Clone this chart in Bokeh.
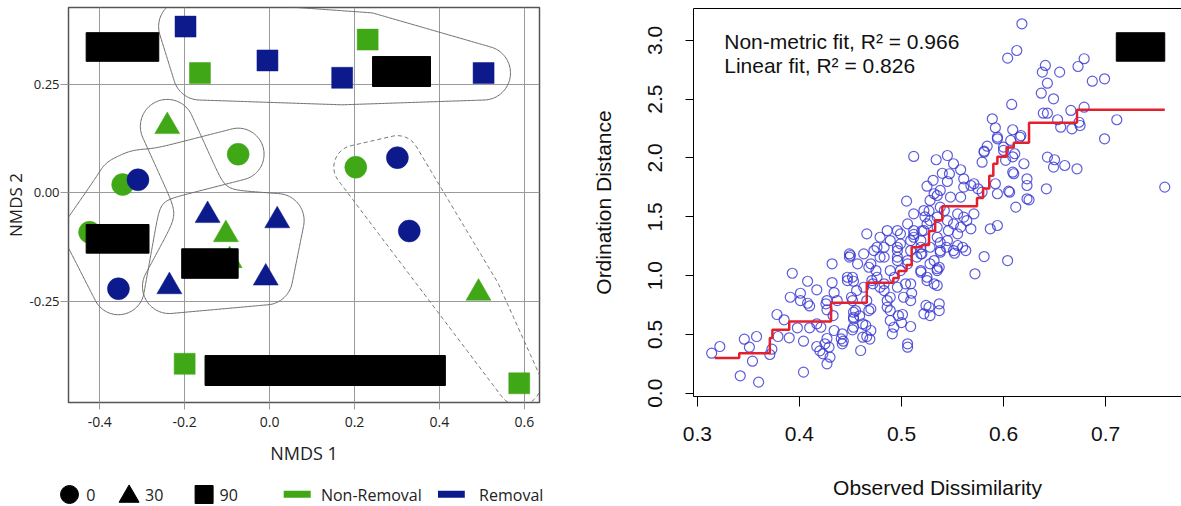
import numpy as np
import contourpy
from bokeh.plotting import figure
from bokeh.layouts import row, column
from bokeh.models import (Range1d, FixedTicker, Label, LinearAxis, ColumnDataSource)
from bokeh.transform import factor_cmap, factor_mark
from bokeh.core.properties import value
from bokeh.embed import file_html
from bokeh.resources import INLINE

# ------------------------------------------------------------------ data (left: NMDS)
nmds_x = [-0.198, -0.164, -0.005, 0.171, 0.231, 0.504, -0.200, 0.588,
          -0.074, -0.346, -0.310, -0.424, -0.356, 0.203, 0.301, 0.329,
          -0.241, -0.146, -0.103, 0.018, -0.094, -0.009, -0.236, 0.492]
nmds_y = [0.383, 0.276, 0.305, 0.265, 0.353, 0.276, -0.394, -0.439,
          0.089, 0.019, 0.030, -0.091, -0.221, 0.059, 0.081, -0.088,
          0.153, -0.052, -0.096, -0.064, -0.156, -0.196, -0.216, -0.231]
nmds_days = ["90"] * 8 + ["0"] * 8 + ["30"] * 8
nmds_treat = ["Removal", "Non-Removal", "Removal", "Removal", "Non-Removal", "Removal", "Non-Removal", "Non-Removal",
              "Non-Removal", "Non-Removal", "Removal", "Non-Removal", "Removal", "Non-Removal", "Removal", "Removal",
              "Non-Removal", "Removal", "Non-Removal", "Removal", "Non-Removal", "Removal", "Removal", "Non-Removal"]
# hull groups: lists of point indices (each part is a convex piece)
hull_groups = [
    {"parts": [[0, 1, 2, 3, 4, 5]], "dash": "solid", "r": 27},
    {"parts": [[9, 10, 11, 12], [10, 8]], "dash": "solid", "r": 26},
    {"parts": [[17, 18, 19, 20, 21, 22], [16, 17]], "dash": "solid", "r": 27},
    {"parts": [[13, 14, 15, 23, 7]], "dash": "4 3", "r": 22},
]
x_ticks = [-0.4, -0.2, 0.0, 0.2, 0.4, 0.6]
x_tick_labels = ["-0.4", "-0.2", "0.0", "0.2", "0.4", "0.6"]
y_ticks = [-0.25, 0.0, 0.25]
y_tick_labels = ["-0.25", "0.00", "0.25"]
days_levels = ["0", "30", "90"]
treat_levels = ["Non-Removal", "Removal"]
legend_shape_labels = ["0", "30", "90"]

# redaction boxes present in the reference picture
mask_left = [-0.432, 0.2425, -0.432, -0.207, -0.152]
mask_right = [-0.261, 0.379, -0.284, -0.074, 0.414]
mask_top = [0.369, 0.314, -0.073, -0.129, -0.375]
mask_bottom = [0.303, 0.245, -0.139, -0.197, -0.444]

# ------------------------------------------------------------------ data (right: Shepard)
shep_pts = [
    (0.314, 0.340), (0.322, 0.397), (0.342, 0.148), (0.346, 0.459), (0.351, 0.391), (0.358, 0.482),
    (0.354, 0.272), (0.360, 0.094), (0.371, 0.329), (0.373, 0.374), (0.378, 0.669), (0.379, 0.482),
    (0.385, 0.624), (0.390, 0.471), (0.391, 0.816), (0.393, 1.020), (0.398, 0.556), (0.401, 0.850),
    (0.404, 0.179), (0.404, 0.442), (0.408, 0.952), (0.410, 0.556), (0.401, 0.788), (0.408, 0.765),
    (0.417, 0.397), (0.417, 0.879), (0.421, 0.561), (0.423, 0.335), (0.427, 0.465), (0.427, 0.250),
    (0.429, 0.391), (0.430, 0.306), (0.426, 0.760), (0.427, 0.709), (0.432, 1.100), (0.432, 0.941),
    (0.434, 0.856), (0.437, 0.788), (0.434, 0.533), (0.442, 0.505), (0.443, 0.442), (0.449, 1.157),
    (0.451, 0.816), (0.452, 0.539), (0.453, 0.952), (0.453, 0.646), (0.455, 0.703), (0.457, 1.100),
    (0.460, 0.363), (0.459, 0.658), (0.462, 0.590), (0.466, 0.482), (0.470, 0.533), (0.466, 0.788),
    (0.470, 0.717), (0.472, 0.930), (0.475, 1.043), (0.479, 0.901), (0.483, 1.157), (0.486, 0.731),
    (0.489, 0.618), (0.493, 0.986), (0.496, 1.157), (0.501, 0.669), (0.506, 0.391), (0.509, 0.567),
    (0.510, 0.850), (0.504, 0.930), (0.489, 0.816),
    (0.433, 0.660), (0.441, 0.462), (0.452, 0.986), (0.456, 0.873), (0.469, 0.460), (0.497, 0.660),
    (0.500, 0.600), (0.524, 0.746), (0.528, 0.660), (0.537, 0.760), (0.535, 0.916), (0.535, 1.058),
    (0.538, 1.199), (0.538, 1.280), (0.535, 1.410), (0.486, 1.383), (0.512, 1.350), (0.520, 1.380),
    (0.523, 1.500), (0.527, 1.550),
    (0.410, 0.742), (0.417, 0.590), (0.427, 0.788), (0.420, 0.360), (0.425, 0.420), (0.442, 0.420),
    (0.450, 1.171), (0.447, 0.958), (0.452, 0.788), (0.453, 0.689), (0.453, 0.632), (0.453, 0.561),
    (0.462, 0.476), (0.465, 0.576), (0.468, 0.703), (0.471, 0.958), (0.468, 1.071), (0.476, 1.241),
    (0.479, 1.157), (0.483, 0.930), (0.486, 0.788), (0.489, 0.703), (0.4925, 0.561), (0.491, 0.505),
    (0.499, 1.355), (0.496, 1.213), (0.499, 1.043), (0.506, 1.128), (0.509, 0.930), (0.509, 0.788),
    (0.519, 1.029), (0.520, 1.185), (0.525, 0.958), (0.527, 0.731), (0.537, 1.071), (0.532, 1.128),
    (0.535, 1.326), (0.537, 0.703), (0.522, 0.675), (0.506, 0.420), (0.544, 1.241), (0.551, 1.213),
    (0.555, 1.355), (0.560, 1.241), (0.545, 1.468), (0.538, 1.582), (0.525, 1.440), (0.512, 1.326),
    (0.519, 1.241), (0.466, 1.355), (0.449, 1.185),
    (0.512, 2.013), (0.534, 1.985), (0.545, 2.021), (0.551, 1.951), (0.547, 1.866), (0.558, 1.900),
    (0.561, 1.823), (0.568, 1.766), (0.575, 1.738), (0.581, 2.058), (0.579, 1.964), (0.594, 2.177),
    (0.600, 2.064), (0.607, 2.149), (0.617, 2.191), (0.620, 1.951), (0.609, 1.879), (0.623, 1.823),
    (0.605, 1.718), (0.594, 1.696), (0.612, 1.582), (0.623, 1.653), (0.594, 1.426), (0.587, 1.398),
    (0.604, 1.128), (0.581, 1.162), (0.572, 1.015), (0.563, 1.213), (0.555, 1.256), (0.552, 1.190),
    (0.558, 1.412), (0.564, 1.468), (0.568, 1.398), (0.561, 1.497), (0.555, 1.525), (0.571, 1.525),
    (0.551, 1.440), (0.546, 1.383), (0.542, 1.553), (0.535, 1.497), (0.528, 1.468), (0.522, 1.553),
    (0.528, 1.639), (0.535, 1.681), (0.538, 1.724), (0.532, 1.696), (0.548, 1.667), (0.558, 1.667),
    (0.505, 1.633), (0.522, 1.383), (0.512, 1.383), (0.509, 1.298), (0.519, 1.298), (0.496, 1.383),
    (0.499, 1.270), (0.489, 1.298), (0.483, 1.241), (0.473, 1.213), (0.463, 1.185), (0.470, 1.100),
    (0.447, 0.986), (0.476, 0.986), (0.489, 1.043), (0.496, 1.128), (0.506, 1.100), (0.515, 1.157),
    (0.519, 1.043), (0.528, 1.100), (0.535, 1.043), (0.532, 0.930), (0.525, 0.986), (0.496, 0.901),
    (0.483, 0.873), (0.463, 0.901), (0.502, 0.816), (0.538, 1.213), (0.545, 1.298), (0.512, 1.525),
    (0.506, 1.440), (0.528, 1.241), (0.479, 1.326), (0.496, 1.241), (0.509, 1.213), (0.519, 1.185),
    (0.618, 3.141), (0.613, 2.914), (0.604, 2.849), (0.641, 2.787), (0.638, 2.730), (0.655, 2.730),
    (0.673, 2.778), (0.679, 2.844), (0.643, 2.636), (0.687, 2.653), (0.699, 2.673), (0.637, 2.551),
    (0.649, 2.503), (0.608, 2.455), (0.639, 2.381), (0.643, 2.381), (0.653, 2.325), (0.656, 2.262),
    (0.666, 2.404), (0.679, 2.432), (0.674, 2.304), (0.667, 2.248), (0.675, 2.276), (0.711, 2.325),
    (0.699, 2.163), (0.589, 2.333), (0.592, 2.257), (0.609, 2.240), (0.594, 2.163), (0.616, 2.177),
    (0.581, 2.049), (0.600, 2.092), (0.611, 2.036), (0.610, 1.866), (0.623, 1.766), (0.606, 1.709),
    (0.625, 1.644), (0.643, 2.007), (0.650, 1.985), (0.649, 1.922), (0.660, 1.936), (0.672, 1.908),
    (0.642, 1.738), (0.758, 1.752), (0.592, 1.781), (0.571, 1.781), (0.561, 1.752), (0.579, 1.709),
    (0.584, 2.100), (0.602, 1.980), (0.609, 2.010), (0.531, 1.810), (0.540, 1.870), (0.525, 1.760),
    (0.545, 1.800),
]
shep_x = [p[0] for p in shep_pts]
shep_y = [p[1] for p in shep_pts]
fit_x = [0.317, 0.341, 0.371, 0.3735, 0.39, 0.431, 0.466, 0.492, 0.497, 0.505, 0.510, 0.520, 0.527,
         0.533, 0.540, 0.574, 0.580, 0.586, 0.590, 0.594, 0.603, 0.610, 0.625, 0.672, 0.758]
fit_y = [0.30, 0.34, 0.47, 0.54, 0.61, 0.77, 0.94, 0.98, 1.04, 1.09, 1.24, 1.26, 1.38,
         1.47, 1.59, 1.66, 1.74, 1.85, 1.95, 2.01, 2.09, 2.13, 2.30, 2.41, 2.41]
shep_x_ticks = [0.3, 0.4, 0.5, 0.6, 0.7]
shep_y_ticks = [0.0, 0.5, 1.0, 1.5, 2.0, 2.5, 3.0]
shep_y_labels = ["0.0", "0.5", "1.0", "1.5", "2.0", "2.5", "3.0"]
fit_texts = ["Non-metric fit, R\u00b2 = 0.966", "Linear fit, R\u00b2 = 0.826"]
mask2 = dict(left=[0.7105], right=[0.758], top=[3.065], bottom=[2.823])

# ------------------------------------------------------------------ style
GREEN = "#40a816"
BLUE = "#0c1a8c"
LFONT = "Open Sans"
RFONT = "Liberation Sans"
SX, SY = 426.3, 434.0   # px per data unit in the left panel (for hull shapes)

# ------------------------------------------------------------------ hull outlines
def convex_hull(pts):
    pts = sorted(set(pts))
    if len(pts) <= 2:
        return pts
    def cross(o, a, b):
        return (a[0] - o[0]) * (b[1] - o[1]) - (a[1] - o[1]) * (b[0] - o[0])
    lower = []
    for p in pts:
        while len(lower) >= 2 and cross(lower[-2], lower[-1], p) <= 0:
            lower.pop()
        lower.append(p)
    upper = []
    for p in reversed(pts):
        while len(upper) >= 2 and cross(upper[-2], upper[-1], p) <= 0:
            upper.pop()
        upper.append(p)
    return lower[:-1] + upper[:-1]

def seg_dist(X, Y, a, b):
    dx, dy = b[0] - a[0], b[1] - a[1]
    L2 = dx * dx + dy * dy
    t = np.clip(((X - a[0]) * dx + (Y - a[1]) * dy) / L2, 0, 1) if L2 > 0 else 0
    return np.hypot(X - (a[0] + t * dx), Y - (a[1] + t * dy))

def part_dist(hull, X, Y):
    n = len(hull)
    if n == 1:
        return np.hypot(X - hull[0][0], Y - hull[0][1])
    d = np.full(X.shape, np.inf)
    inside = np.ones(X.shape, bool)
    for i in range(n if n > 2 else 1):
        a, b = hull[i], hull[(i + 1) % n]
        d = np.minimum(d, seg_dist(X, Y, a, b))
        if n > 2:
            inside &= ((b[0] - a[0]) * (Y - a[1]) - (b[1] - a[1]) * (X - a[0])) >= 0
    if n > 2:
        d[inside] = 0.0
    return d

gx = np.linspace(-0.6, 0.75, 420)
gy = np.linspace(-0.6, 0.55, 380)
GX, GY = np.meshgrid(gx * SX, gy * SY)
hull_lines = []
for grp in hull_groups:
    ds = []
    for part in grp["parts"]:
        pts = [(nmds_x[i] * SX, nmds_y[i] * SY) for i in part]
        ds.append(part_dist(convex_hull(pts), GX, GY))
    D = np.stack(ds)
    m = D.min(axis=0)
    s = 5.0
    F = m - s * np.log(np.sum(np.exp(-(D - m) / s), axis=0))
    gen = contourpy.contour_generator(x=gx * SX, y=gy * SY, z=F, line_type="Separate")
    for ln in gen.lines(grp["r"]):
        hull_lines.append((list(ln[:, 0] / SX), list(ln[:, 1] / SY), grp["dash"]))

# ------------------------------------------------------------------ left figure
p1 = figure(width=575, height=481, x_range=Range1d(-0.4736, 0.6357), y_range=Range1d(-0.4832, 0.4270),
            min_border_left=66, min_border_right=36, min_border_top=7, min_border_bottom=79,
            output_backend="svg", toolbar_location=None)
p1.frame_align = False
p1.outline_line_color = "#555555"
p1.outline_line_width = 1.5
p1.background_fill_color = "white"

for ax, ticks, labels in ((p1.xaxis[0], x_ticks, x_tick_labels), (p1.yaxis[0], y_ticks, y_tick_labels)):
    ax.ticker = FixedTicker(ticks=ticks)
    ax.major_label_overrides = {t: l for t, l in zip(ticks, labels)}
    ax.minor_tick_line_color = None
    ax.major_tick_in = 0
    ax.major_tick_line_color = "#9a9a9a"
    ax.axis_line_color = None
    ax.major_label_text_font = LFONT
    ax.major_label_text_color = "#222222"
    ax.axis_label_text_font = LFONT
    ax.axis_label_text_font_style = "normal"
    ax.axis_label_text_font_size = "18px"
    ax.axis_label_text_color = "#222222"
p1.xaxis.major_tick_out = 7
p1.xaxis.major_label_text_font_size = "14px"
p1.xaxis.major_label_standoff = 7
p1.xaxis.axis_label = "NMDS 1"
p1.xaxis.axis_label_standoff = 11
p1.yaxis.major_tick_out = 8
p1.yaxis.major_label_text_font_size = "13px"
p1.yaxis.major_label_standoff = 1
p1.yaxis.axis_label = "NMDS 2"
p1.yaxis.axis_label_text_font_size = "17px"
p1.yaxis.axis_label_standoff = 0
p1.xgrid.ticker = FixedTicker(ticks=x_ticks)
p1.ygrid.ticker = FixedTicker(ticks=y_ticks)
p1.grid.grid_line_color = "#9a9a9a"
p1.grid.grid_line_width = 1

for xs, ys, dash in hull_lines:
    p1.line(xs, ys, line_color="#6a6a6a", line_width=1, line_dash=dash)

src = ColumnDataSource(dict(x=nmds_x, y=nmds_y, days=nmds_days, treat=nmds_treat,
                            size=[{"0": 22, "30": 25, "90": 21}[d] for d in nmds_days]))
p1.scatter("x", "y", source=src, size="size",
           marker=factor_mark("days", ["circle", "triangle", "square"], days_levels),
           fill_color=factor_cmap("treat", [GREEN, BLUE], treat_levels),
           line_color=factor_cmap("treat", [GREEN, BLUE], treat_levels), line_width=0.5)

p1.quad(left=mask_left, right=mask_right, top=mask_top, bottom=mask_bottom,
        fill_color="black", line_color="black")

# ------------------------------------------------------------------ legend strip under the left panel
# (strip coordinates are page pixels across the full 575 px width)
pl = figure(width=575, height=25, x_range=Range1d(0, 575), y_range=Range1d(0, 25),
            min_border_left=0, min_border_right=0, min_border_top=0, min_border_bottom=0,
            x_axis_location=None, y_axis_location=None,
            output_backend="svg", toolbar_location=None)
pl.frame_align = False
pl.grid.visible = False
pl.outline_line_color = None
pl.scatter(x=[69, 128.6, 203.6], y=[12, 10, 12], size=[18, 20, 18],
           marker=["circle", "triangle", "square"], color="black")
pl.text(x=[85.7, 144.6, 219], y=[12, 12, 12], text=legend_shape_labels,
        text_font=value(LFONT), text_font_size="16px", text_color="#222222",
        text_baseline="middle", text_align="left")
pl.segment(x0=[283.2, 437.5], y0=[12.3, 12.3], x1=[310.2, 464.3], y1=[12.3, 12.3],
           line_color=[GREEN, BLUE], line_width=7)
pl.text(x=[320.4, 478.6], y=[12, 12], text=treat_levels,
        text_font=value(LFONT), text_font_size="16px", text_color="#222222",
        text_baseline="middle", text_align="left")

# ------------------------------------------------------------------ right figure
p2 = figure(width=606, height=506, x_range=Range1d(0.2962, 0.7744), y_range=Range1d(-0.028, 3.271),
            min_border_left=118, min_border_right=0, min_border_top=8, min_border_bottom=110,
            output_backend="svg", toolbar_location=None)
p2.frame_align = False
p2.outline_line_color = None
p2.grid.visible = False
p2.scatter(shep_x, shep_y, marker="circle", size=10, fill_color=None,
           line_color="#3434d2", line_alpha=0.8, line_width=1.2)
p2.step(fit_x, fit_y, mode="after", line_color="#e3202c", line_width=2.5)
p2.quad(**mask2, fill_color="black", line_color="black")

xa, ya = p2.xaxis[0], p2.yaxis[0]
xa.ticker = FixedTicker(ticks=shep_x_ticks)
ya.ticker = FixedTicker(ticks=shep_y_ticks)
ya.major_label_overrides = {t: l for t, l in zip(shep_y_ticks, shep_y_labels)}
for ax in (xa, ya):
    ax.minor_tick_line_color = None
    ax.major_tick_in = 0
    ax.major_tick_line_color = "black"
    ax.axis_line_color = "black"
    ax.major_label_text_font = RFONT
    ax.major_label_text_font_size = "21px"
    ax.major_label_text_color = "#111111"
    ax.axis_label_text_font = RFONT
    ax.axis_label_text_font_size = "21px"
    ax.axis_label_text_font_style = "normal"
    ax.axis_label_text_color = "#111111"
xa.major_tick_out = 10
xa.major_label_standoff = 20
xa.axis_label = "Observed Dissimilarity"
xa.axis_label_standoff = 32
ya.major_tick_out = 8
ya.major_label_orientation = "vertical"
ya.major_label_standoff = 23
ya.axis_label = "Ordination Distance"
ya.axis_label_standoff = 31
p2.add_layout(LinearAxis(ticker=FixedTicker(ticks=[]), major_tick_line_color=None,
                         minor_tick_line_color=None, major_label_text_font_size="0px",
                         axis_line_color="black"), "above")

for txt, yy in zip(fit_texts, [2.992, 2.786]):
    p2.add_layout(Label(x=0.3263, y=yy, text=txt, text_font=RFONT, text_font_size="21px",
                        text_color="#111111", text_baseline="middle"))

layout = row(column(p1, pl), p2)
open("out.html", "w").write(file_html(layout, INLINE))
